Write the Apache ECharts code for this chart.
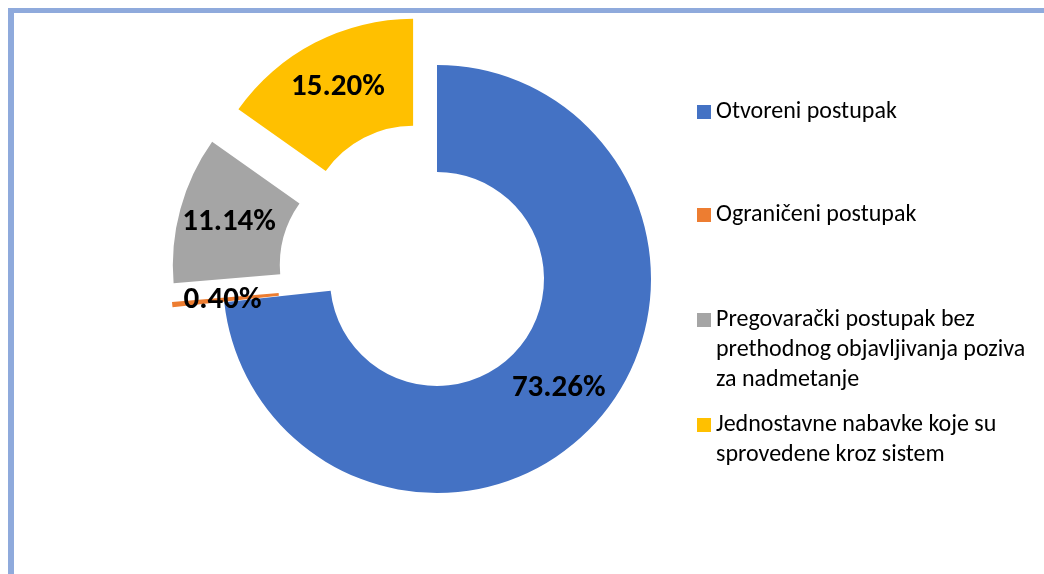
<!DOCTYPE html>
<html>
<head>
<meta charset="utf-8">
<script src="https://cdn.jsdelivr.net/npm/echarts@6/dist/echarts.min.js"></script>
<style>
html,body{margin:0;padding:0;background:#fff;}
#chart{width:1044px;height:574px;}
</style>
</head>
<body>
<div id="chart"></div>
<script>
const categories = [
  'Otvoreni postupak',
  'Ograničeni postupak',
  'Pregovarački postupak bez\nprethodnog objavljivanja poziva\nza nadmetanje',
  'Jednostavne nabavke koje su\nsprovedene kroz sistem'
];
const values = [73.26, 0.40, 11.14, 15.20];
const colors = ['#4472C4', '#ED7D31', '#A5A5A5', '#FFC000'];
const exploded = [false, true, true, true];
const legendIconCenters = [112, 215, 320, 425];

const FONT = 'Carlito, Lato, sans-serif';
const LINE_H = 30;

const chart = echarts.init(document.getElementById('chart'), null, {renderer: 'canvas'});

const legends = categories.map((name, i) => {
  const n = name.split('\n').length;
  const boxH = (2 * n - 1) * LINE_H;
  return {
    orient: 'vertical',
    left: 697,
    top: legendIconCenters[i] - boxH / 2,
    padding: 0,
    itemWidth: 14,
    itemHeight: 14,
    itemGap: 0,
    selectedMode: false,
    icon: 'rect',
    data: [name],
    formatter: nm => '\n'.repeat(n - 1) + nm,
    textStyle: {
      fontFamily: FONT,
      fontSize: 24,
      color: '#000',
      lineHeight: LINE_H
    }
  };
});

const option = {
  animation: false,
  color: colors,
  legend: legends,
  graphic: [
    {type: 'rect', left: 8, top: 8, shape: {width: 1036, height: 5}, style: {fill: '#8FAADC'}, silent: true},
    {type: 'rect', left: 8, top: 8, shape: {width: 6, height: 566}, style: {fill: '#8FAADC'}, silent: true}
  ],
  series: [{
    type: 'pie',
    center: [437, 279],
    radius: [107, 214],
    startAngle: 90,
    clockwise: true,
    selectedMode: 'multiple',
    selectedOffset: 52,
    avoidLabelOverlap: false,
    minAngle: 0,
    label: {
      show: true,
      position: 'inside',
      fontFamily: FONT,
      fontSize: 31,
      fontWeight: 'bold',
      color: '#000',
      formatter: p => p.value.toFixed(2) + '%'
    },
    labelLine: {show: false},
    itemStyle: {borderWidth: 0},
    emphasis: {disabled: true},
    select: {itemStyle: {borderWidth: 0}},
    data: categories.map((name, i) => ({
      name: name,
      value: values[i],
      selected: exploded[i],
      itemStyle: {color: colors[i]}
    }))
  }]
};
chart.setOption(option);
</script>
</body>
</html>
